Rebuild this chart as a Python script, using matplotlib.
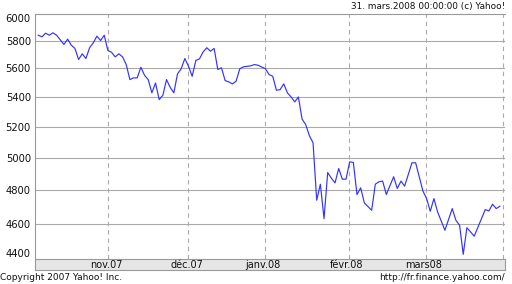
"""
CAC 40 — 6 mois (oct. 2007 - mars 2008), style Yahoo! Finance
"""
import matplotlib
matplotlib.use('Agg')
import matplotlib.pyplot as plt
from matplotlib.ticker import FixedLocator, NullLocator

# indice du jour de bourse et cloture
days = [0, 1, 2, 3, 4, 5, 6, 7, 8, 9, 10, 11, 12, 13, 14, 15, 16, 17, 18, 19,
        20, 21, 22, 23, 24, 25, 26, 27, 28, 29, 30, 31, 32, 33, 34, 35, 36, 37, 38, 39,
        40, 41, 42, 43, 44, 45, 46, 47, 48, 49, 50, 51, 52, 53, 54, 55, 56, 58, 59, 60,
        62, 63, 64, 65, 66, 67, 68, 69, 70, 71, 72, 73, 74, 75, 76, 77, 78, 79, 80, 81,
        82, 83, 84, 85, 86, 87, 88, 89, 91, 92, 93, 94, 95, 97, 98, 99, 100, 102, 103, 105,
        106, 107, 108, 109, 111, 113, 114, 115, 116, 117, 119, 122, 123, 124, 125, 126]
close = [5841, 5829, 5856, 5841, 5859, 5841, 5807, 5773, 5812, 5768,
         5744, 5664, 5705, 5671, 5749, 5785, 5834, 5802, 5841, 5729,
         5716, 5683, 5705, 5683, 5628, 5522, 5534, 5534, 5609, 5552,
         5522, 5430, 5498, 5384, 5413, 5522, 5468, 5430, 5562, 5598,
         5671, 5616, 5545, 5657, 5669, 5719, 5749, 5724, 5744, 5593,
         5605, 5515, 5506, 5492, 5511, 5598, 5612, 5619, 5628, 5623,
         5598, 5557, 5545, 5448, 5452, 5492, 5430, 5402, 5368, 5402,
         5253, 5216, 5143, 5098, 4740, 4837, 4631, 4909, 4874, 4845,
         4934, 4868, 4868, 4976, 4972, 4774, 4815, 4724, 4680, 4837,
         4852, 4856, 4774, 4883, 4811, 4856, 4825, 4970, 4970, 4795,
         4750, 4674, 4750, 4670, 4563, 4690, 4621, 4592, 4426, 4578,
         4529, 4684, 4676, 4716, 4690, 4704]

month_pos = [19.0, 41.0, 61.9, 84.7, 105.7, 126.8]
month_labels = ['nov.07', 'déc.07', 'janv.08', 'févr.08', 'mars08', '']
y_ticks = [4400, 4600, 4800, 5000, 5200, 5400, 5600, 5800, 6000]

GRID = '#aaaaaa'
BORDER = '#999999'

fig = plt.figure(figsize=(5.12, 2.84), dpi=100)
ax = fig.add_axes([35/512, 25/284, 470/512, 245/284])
band = fig.add_axes([35/512, 14/284, 470/512, 11/284], sharex=ax)

ax.plot(days, close, color='#3333ff', lw=0.85, zorder=3)
ax.set_yscale('log')
ax.set_ylim(4400, 6000)
ax.set_xlim(-0.9, 127.4)

ax.yaxis.set_major_locator(FixedLocator(y_ticks))
ax.yaxis.set_minor_locator(NullLocator())
ax.set_yticklabels([str(v) for v in y_ticks])
ax.tick_params(axis='y', length=0, pad=3, labelsize=7.2, labelcolor='#111111')
ax.get_yticklabels()[0].set_va('bottom')
ax.get_yticklabels()[-1].set_va('top')
for v in y_ticks[1:-1]:
    ax.axhline(v, color=GRID, lw=0.8, zorder=1)
for p in month_pos:
    ax.axvline(p, color=GRID, lw=0.8, dashes=(4, 3.5), zorder=1)

ax.tick_params(axis='x', length=0, labelbottom=False)
ax.xaxis.set_minor_locator(NullLocator())
ax.spines['right'].set_visible(False)
ax.spines['bottom'].set_visible(False)
for s in ('left', 'top'):
    ax.spines[s].set_color(BORDER)
    ax.spines[s].set_linewidth(0.8)

# bande grise des mois
band.set_facecolor('#e6e6e6')
band.set_yticks([])
band.set_xticks([])
for s in band.spines.values():
    s.set_color(BORDER)
    s.set_linewidth(0.8)
for p, lab in zip(month_pos, month_labels):
    band.text(p - 0.5, 0.45, lab, transform=band.get_xaxis_transform(),
              ha='center', va='center', fontsize=7, color='#111111')

fig.text(505/512, 1 - 7/284, '31. mars.2008 00:00:00 (c) Yahoo!', ha='right', va='center',
         fontsize=6.4, color='#111111')
fig.text(0, 1 - 278/284, 'Copyright 2007 Yahoo! Inc.', ha='left', va='center',
         fontsize=6.5, color='#111111')
fig.text(505/512, 1 - 278/284, 'http://fr.finance.yahoo.com/', ha='right', va='center',
         fontsize=6.5, color='#111111')

fig.savefig('out.png', dpi=100)
